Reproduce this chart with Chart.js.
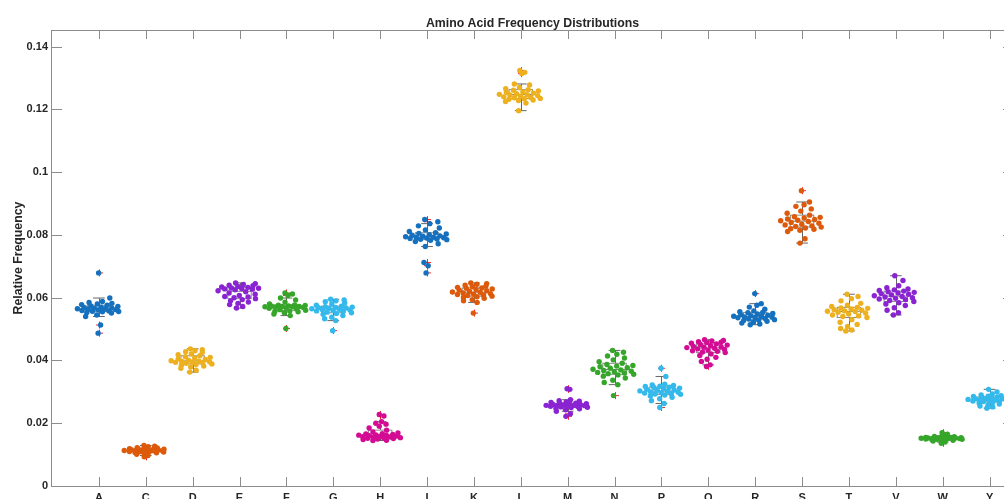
<!DOCTYPE html>
<html>
<head>
<meta charset="utf-8">
<script src="https://cdn.jsdelivr.net/npm/chart.js@4.4.1/dist/chart.umd.min.js"></script>
<style>
  html, body { margin: 0; padding: 0; background: #ffffff; overflow: hidden; }
  #wrap { position: relative; width: 1013px; height: 499px; }
</style>
</head>
<body>
<div id="wrap"><canvas id="chart"></canvas></div>
<script>
// Amino acid categories (one-letter codes) in axis order
const aminoAcids = ['A','C','D','E','F','G','H','I','K','L','M','N','P','Q','R','S','T','V','W','Y'];

// Relative frequency observations per amino acid
const freqA = [0.0679,0.0599,0.0588,0.0585,0.0582,0.0580,0.0578,0.0576,0.0574,0.0572,0.0570,0.0569,0.0567,0.0566,0.0565,0.0565,0.0564,0.0562,0.0561,0.0559,0.0558,0.0557,0.0556,0.0555,0.0553,0.0551,0.0545,0.0540,0.0513,0.0487];
const freqC = [0.0129,0.0127,0.0125,0.0122,0.0121,0.0120,0.0119,0.0118,0.0118,0.0117,0.0116,0.0116,0.0115,0.0114,0.0113,0.0113,0.0112,0.0112,0.0111,0.0110,0.0110,0.0109,0.0108,0.0108,0.0107,0.0106,0.0104,0.0101,0.0097,0.0093];
const freqD = [0.0437,0.0434,0.0431,0.0428,0.0425,0.0421,0.0418,0.0415,0.0412,0.0410,0.0408,0.0405,0.0403,0.0401,0.0399,0.0398,0.0397,0.0396,0.0395,0.0394,0.0393,0.0391,0.0389,0.0387,0.0385,0.0382,0.0379,0.0375,0.0369,0.0363];
const freqE = [0.0647,0.0645,0.0642,0.0640,0.0638,0.0636,0.0634,0.0633,0.0631,0.0630,0.0629,0.0628,0.0627,0.0625,0.0622,0.0619,0.0615,0.0611,0.0607,0.0604,0.0602,0.0600,0.0597,0.0594,0.0590,0.0586,0.0582,0.0578,0.0572,0.0567];
const freqF = [0.0615,0.0612,0.0607,0.0599,0.0593,0.0586,0.0580,0.0577,0.0576,0.0575,0.0574,0.0573,0.0572,0.0572,0.0571,0.0571,0.0570,0.0569,0.0568,0.0566,0.0564,0.0562,0.0560,0.0558,0.0557,0.0555,0.0552,0.0548,0.0543,0.0502];
const freqG = [0.0595,0.0593,0.0590,0.0587,0.0583,0.0580,0.0576,0.0573,0.0571,0.0570,0.0569,0.0568,0.0567,0.0566,0.0565,0.0563,0.0562,0.0561,0.0560,0.0558,0.0556,0.0554,0.0552,0.0550,0.0547,0.0543,0.0538,0.0533,0.0527,0.0495];
const freqH = [0.0228,0.0223,0.0205,0.0200,0.0197,0.0190,0.0185,0.0178,0.0172,0.0169,0.0167,0.0166,0.0164,0.0163,0.0162,0.0161,0.0160,0.0159,0.0158,0.0157,0.0156,0.0155,0.0154,0.0153,0.0152,0.0151,0.0150,0.0148,0.0146,0.0145];
const freqI = [0.0849,0.0842,0.0836,0.0829,0.0822,0.0816,0.0811,0.0807,0.0805,0.0803,0.0801,0.0799,0.0797,0.0796,0.0794,0.0793,0.0792,0.0791,0.0790,0.0789,0.0787,0.0786,0.0785,0.0783,0.0779,0.0772,0.0763,0.0712,0.0702,0.0679];
const freqK = [0.0647,0.0645,0.0643,0.0640,0.0637,0.0635,0.0633,0.0631,0.0630,0.0628,0.0626,0.0624,0.0622,0.0620,0.0618,0.0617,0.0615,0.0613,0.0611,0.0610,0.0608,0.0607,0.0605,0.0603,0.0601,0.0598,0.0594,0.0590,0.0585,0.0551];
const freqL = [0.1324,0.1318,0.1314,0.1281,0.1278,0.1270,0.1266,0.1263,0.1261,0.1259,0.1256,0.1254,0.1252,0.1250,0.1248,0.1247,0.1246,0.1244,0.1242,0.1240,0.1238,0.1237,0.1235,0.1234,0.1232,0.1230,0.1228,0.1225,0.1220,0.1196];
const freqM = [0.0310,0.0308,0.0275,0.0272,0.0270,0.0268,0.0266,0.0264,0.0263,0.0262,0.0261,0.0260,0.0259,0.0258,0.0257,0.0257,0.0256,0.0256,0.0255,0.0254,0.0253,0.0252,0.0251,0.0250,0.0248,0.0246,0.0243,0.0238,0.0230,0.0222];
const freqN = [0.0432,0.0426,0.0420,0.0414,0.0408,0.0402,0.0396,0.0391,0.0387,0.0384,0.0382,0.0380,0.0377,0.0375,0.0372,0.0370,0.0368,0.0366,0.0364,0.0362,0.0360,0.0358,0.0356,0.0354,0.0350,0.0344,0.0337,0.0330,0.0323,0.0288];
const freqP = [0.0375,0.0349,0.0324,0.0322,0.0320,0.0318,0.0317,0.0315,0.0314,0.0312,0.0310,0.0308,0.0306,0.0305,0.0303,0.0302,0.0300,0.0299,0.0297,0.0296,0.0294,0.0293,0.0292,0.0290,0.0287,0.0283,0.0278,0.0272,0.0263,0.0250];
const freqQ = [0.0466,0.0464,0.0462,0.0460,0.0458,0.0457,0.0455,0.0453,0.0451,0.0449,0.0447,0.0445,0.0443,0.0442,0.0441,0.0439,0.0437,0.0435,0.0433,0.0431,0.0429,0.0427,0.0425,0.0421,0.0416,0.0410,0.0404,0.0397,0.0386,0.0381];
const freqR = [0.0613,0.0581,0.0576,0.0570,0.0563,0.0558,0.0555,0.0553,0.0552,0.0550,0.0548,0.0546,0.0544,0.0543,0.0541,0.0540,0.0539,0.0538,0.0537,0.0536,0.0534,0.0532,0.0530,0.0529,0.0527,0.0525,0.0522,0.0519,0.0516,0.0514];
const freqS = [0.0941,0.0905,0.0896,0.0891,0.0883,0.0876,0.0869,0.0863,0.0858,0.0856,0.0854,0.0851,0.0849,0.0847,0.0845,0.0843,0.0840,0.0837,0.0834,0.0832,0.0829,0.0827,0.0825,0.0822,0.0820,0.0818,0.0815,0.0811,0.0788,0.0774];
const freqT = [0.0611,0.0604,0.0597,0.0590,0.0582,0.0576,0.0572,0.0569,0.0567,0.0566,0.0564,0.0562,0.0560,0.0558,0.0557,0.0556,0.0554,0.0551,0.0548,0.0545,0.0542,0.0540,0.0537,0.0530,0.0522,0.0515,0.0508,0.0502,0.0497,0.0494];
const freqV = [0.0670,0.0655,0.0638,0.0632,0.0628,0.0625,0.0623,0.0621,0.0619,0.0617,0.0615,0.0613,0.0611,0.0609,0.0606,0.0604,0.0602,0.0600,0.0598,0.0596,0.0594,0.0591,0.0588,0.0584,0.0580,0.0575,0.0568,0.0560,0.0552,0.0545];
const freqW = [0.0170,0.0165,0.0160,0.0158,0.0157,0.0156,0.0155,0.0155,0.0154,0.0154,0.0153,0.0153,0.0153,0.0152,0.0152,0.0152,0.0151,0.0151,0.0151,0.0150,0.0150,0.0149,0.0149,0.0148,0.0147,0.0146,0.0145,0.0143,0.0140,0.0136];
const freqY = [0.0308,0.0300,0.0293,0.0290,0.0288,0.0286,0.0285,0.0284,0.0283,0.0282,0.0281,0.0279,0.0278,0.0277,0.0276,0.0275,0.0274,0.0273,0.0272,0.0271,0.0270,0.0269,0.0268,0.0266,0.0264,0.0261,0.0258,0.0255,0.0252,0.0248];

const groups = [freqA,freqC,freqD,freqE,freqF,freqG,freqH,freqI,freqK,freqL,freqM,freqN,freqP,freqQ,freqR,freqS,freqT,freqV,freqW,freqY];

// Colour cycle for the swarms
const palette = ['#1570be','#dc5a0a','#edb120','#8a24d2','#36a62a','#33b9ec','#d40c94'];

// Y axis tick values
const yTicks = [0, 0.02, 0.04, 0.06, 0.08, 0.10, 0.12, 0.14];

// ---- helpers ----
function prctile(sorted, p) {
  const n = sorted.length;
  const pos = n * p / 100 + 0.5;
  if (pos <= 1) return sorted[0];
  if (pos >= n) return sorted[n - 1];
  const lo = Math.floor(pos), f = pos - lo;
  return sorted[lo - 1] + f * (sorted[lo] - sorted[lo - 1]);
}

function boxStats(vals) {
  const s = vals.slice().sort((a, b) => a - b);
  const q1 = prctile(s, 25), med = prctile(s, 50), q3 = prctile(s, 75);
  const iqr = q3 - q1;
  const lo = q1 - 1.5 * iqr, hi = q3 + 1.5 * iqr;
  const inside = s.filter(v => v >= lo && v <= hi);
  return {
    q1, med, q3,
    wLo: inside[0], wHi: inside[inside.length - 1],
    outliers: s.filter(v => v < lo || v > hi)
  };
}

// density-scaled horizontal spread of each swarm
function swarmOffsets(vals, width) {
  const n = vals.length;
  const mean = vals.reduce((a, b) => a + b, 0) / n;
  const sd = Math.sqrt(vals.reduce((a, b) => a + (b - mean) * (b - mean), 0) / (n - 1));
  const h = 1.5 * 1.06 * sd * Math.pow(n, -0.2);
  const dens = vals.map(v => vals.reduce((a, w) => a + Math.exp(-0.5 * ((v - w) / h) ** 2), 0));
  const dMax = Math.max(...dens);
  return vals.map((v, i) => {
    const u = ((i * 0.6180339887 + 0.37) % 1) * 2 - 1;
    return width * (dens[i] / dMax) * u;
  });
}

const stats = groups.map(boxStats);

const datasets = groups.map((vals, gi) => {
  const off = swarmOffsets(vals, 0.48);
  return {
    label: aminoAcids[gi],
    data: vals.map((v, i) => ({ x: gi + 1 + off[i], y: v })),
    backgroundColor: palette[gi % palette.length],
    borderWidth: 0,
    pointRadius: 2.7,
    pointHoverRadius: 2.7
  };
});

const FONT = '"Liberation Sans", Arial, Helvetica, sans-serif';
const TEXT = '#262626';
const AXIS = '#8c8c8c';

const boxPlugin = {
  id: 'boxes',
  beforeDatasetsDraw(chart) {
    const { ctx } = chart;
    const xs = chart.scales.x, ys = chart.scales.y;
    const px = v => xs.getPixelForValue(v), py = v => ys.getPixelForValue(v);
    ctx.save();
    stats.forEach((st, gi) => {
      const c = gi + 1;
      const xc = Math.round(px(c)) + 0.5;
      // outlier markers
      ctx.strokeStyle = 'rgba(255,0,0,0.85)';
      ctx.lineWidth = 1;
      st.outliers.forEach(v => {
        const y = py(v);
        ctx.beginPath();
        ctx.moveTo(xc - 3.5, y); ctx.lineTo(xc + 3.5, y);
        ctx.moveTo(xc, y - 3.5); ctx.lineTo(xc, y + 3.5);
        ctx.stroke();
      });
      // whiskers and caps
      ctx.strokeStyle = '#666666';
      ctx.beginPath();
      ctx.moveTo(xc, py(st.q3)); ctx.lineTo(xc, py(st.wHi));
      ctx.moveTo(xc, py(st.q1)); ctx.lineTo(xc, py(st.wLo));
      ctx.moveTo(px(c - 0.125), py(st.wHi)); ctx.lineTo(px(c + 0.125), py(st.wHi));
      ctx.moveTo(px(c - 0.125), py(st.wLo)); ctx.lineTo(px(c + 0.125), py(st.wLo));
      ctx.stroke();
      // box
      ctx.strokeStyle = '#8a8a8a';
      ctx.strokeRect(px(c - 0.25), py(st.q3), px(c + 0.25) - px(c - 0.25), py(st.q1) - py(st.q3));
      // median
      ctx.strokeStyle = '#7a7a7a';
      ctx.beginPath();
      ctx.moveTo(px(c - 0.25), py(st.med)); ctx.lineTo(px(c + 0.25), py(st.med));
      ctx.stroke();
    });
    ctx.restore();
  },
  afterDraw(chart) {
    const { ctx, chartArea: a } = chart;
    const xs = chart.scales.x, ys = chart.scales.y;
    ctx.save();
    // axes frame
    ctx.strokeStyle = AXIS;
    ctx.lineWidth = 1;
    ctx.strokeRect(Math.round(a.left) - 0.5, Math.round(a.top) + 0.5, Math.round(a.right - a.left), Math.round(a.bottom - a.top));
    // inward tick marks
    ctx.beginPath();
    yTicks.forEach(v => {
      const y = Math.round(ys.getPixelForValue(v)) + 0.5;
      ctx.moveTo(a.left, y); ctx.lineTo(a.left + 10, y);
      ctx.moveTo(a.right - 10, y); ctx.lineTo(a.right, y);
    });
    aminoAcids.forEach((_, i) => {
      const x = Math.round(xs.getPixelForValue(i + 1)) + 0.5;
      ctx.moveTo(x, a.bottom); ctx.lineTo(x, a.bottom - 9);
      ctx.moveTo(x, a.top); ctx.lineTo(x, a.top + 9);
    });
    ctx.stroke();
    // title
    ctx.fillStyle = TEXT;
    ctx.font = 'bold 12.3px ' + FONT;
    ctx.textAlign = 'center';
    ctx.textBaseline = 'alphabetic';
    ctx.fillText('Amino Acid Frequency Distributions', (a.left + a.right) / 2, 26.5);
    // y axis title
    ctx.translate(21.5, (a.top + a.bottom) / 2);
    ctx.rotate(-Math.PI / 2);
    ctx.fillText('Relative Frequency', 0, 0);
    ctx.restore();
  }
};

new Chart(document.getElementById('chart'), {
  type: 'scatter',
  data: { datasets },
  options: {
    responsive: true,
    maintainAspectRatio: false,
    animation: false,
    events: [],
    layout: { autoPadding: false, padding: { top: 30, left: 0, right: 0, bottom: 0 } },
    plugins: { legend: { display: false }, tooltip: { enabled: false }, title: { display: false } },
    scales: {
      x: {
        type: 'linear',
        min: 0,
        max: 20.5,
        grid: { display: false, drawTicks: false },
        border: { display: false },
        afterFit: s => { s.height = 13; },
        afterBuildTicks: s => { s.ticks = aminoAcids.map((_, i) => ({ value: i + 1 })); },
        ticks: {
          autoSkip: false,
          maxRotation: 0,
          padding: 5,
          color: TEXT,
          font: { family: FONT, size: 11, weight: 'bold' },
          callback: v => aminoAcids[Math.round(v) - 1] || ''
        }
      },
      y: {
        min: 0,
        max: 0.1453,
        grid: { display: false, drawTicks: false },
        border: { display: false },
        afterFit: s => { s.width = 52; },
        afterBuildTicks: s => { s.ticks = yTicks.map(v => ({ value: v })); },
        ticks: {
          padding: 4,
          color: TEXT,
          font: { family: FONT, size: 11, weight: 'bold' },
          callback: v => String(+v.toFixed(2))
        }
      }
    }
  },
  plugins: [boxPlugin]
});
</script>
</body>
</html>
